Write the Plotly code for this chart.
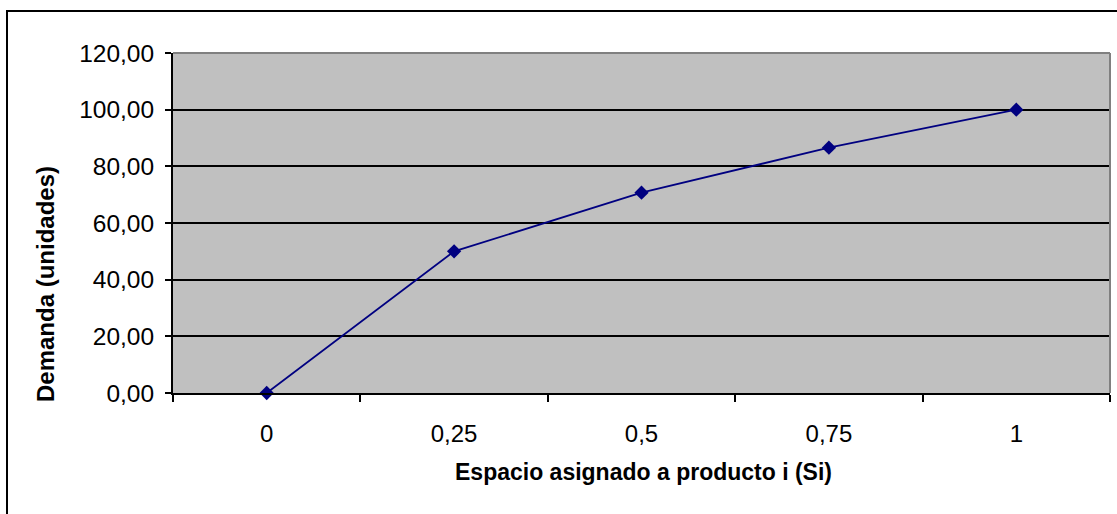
import plotly.graph_objects as go

# Demand curve vs. allocated shelf space
espacio = ["0", "0,25", "0,5", "0,75", "1"]
demanda = [0.0, 50.0, 70.71, 86.60, 100.0]
y_ticks = [0, 20, 40, 60, 80, 100, 120]

W, H = 1117, 514
L, R, T, B = 173, 7, 53, 121
pw, ph = W - L - R, H - T - B

def px_to_paper_x(px):
    return (px - L) / pw

def px_to_paper_y(py):
    return (H - B - py) / ph

font_family = "Arial, Liberation Sans, sans-serif"

fig = go.Figure()
fig.add_trace(go.Scatter(
    x=espacio, y=demanda, mode="lines+markers",
    line=dict(color="#000080", width=1.8),
    marker=dict(symbol="diamond", size=11, color="#000080"),
    cliponaxis=False, showlegend=False,
))

fig.update_layout(
    width=W, height=H,
    margin=dict(l=L, r=R, t=T, b=B),
    paper_bgcolor="white", plot_bgcolor="#C0C0C0",
    separators=",.",
    font=dict(family=font_family, size=23, color="black"),
    xaxis=dict(
        type="category", range=[-0.5, 4.5],
        tickson="boundaries", ticks="outside", ticklen=7, tickwidth=1.5,
        tickcolor="black", showline=True, linecolor="black", linewidth=2,
        showgrid=False, zeroline=False, ticklabelstandoff=18,
        tickfont=dict(size=24),
    ),
    yaxis=dict(
        range=[0, 120], tickvals=y_ticks, tickformat=".2f",
        ticks="outside", ticklen=6, tickwidth=1.5, tickcolor="black",
        showline=True, linecolor="black", linewidth=2,
        showgrid=True, gridcolor="black", gridwidth=1.5,
        zeroline=False, ticklabelstandoff=6, tickfont=dict(size=24.5),
    ),
)

# plot-area frame (top and right edges in grey)
fig.add_shape(type="line", xref="paper", yref="paper",
              x0=0, x1=1, y0=1, y1=1, line=dict(color="#808080", width=2))
fig.add_shape(type="line", xref="paper", yref="paper",
              x0=1, x1=1, y0=0, y1=1, line=dict(color="#808080", width=2))

# chart-area border
fig.add_shape(type="rect", xref="paper", yref="paper",
              x0=px_to_paper_x(7), x1=px_to_paper_x(W + 20),
              y0=px_to_paper_y(H + 20), y1=px_to_paper_y(11),
              line=dict(color="black", width=2), fillcolor="rgba(0,0,0,0)")

# axis titles
fig.add_annotation(text="<b>Espacio asignado a producto i (Si)</b>",
                   xref="paper", yref="paper",
                   x=px_to_paper_x(643.5), y=px_to_paper_y(472),
                   xanchor="center", yanchor="middle", showarrow=False,
                   font=dict(size=23))
fig.add_annotation(text="<b>Demanda (unidades)</b>",
                   xref="paper", yref="paper",
                   x=px_to_paper_x(45), y=px_to_paper_y(284),
                   xanchor="center", yanchor="middle", showarrow=False,
                   textangle=-90, font=dict(size=24))

fig.write_html("out.html")
